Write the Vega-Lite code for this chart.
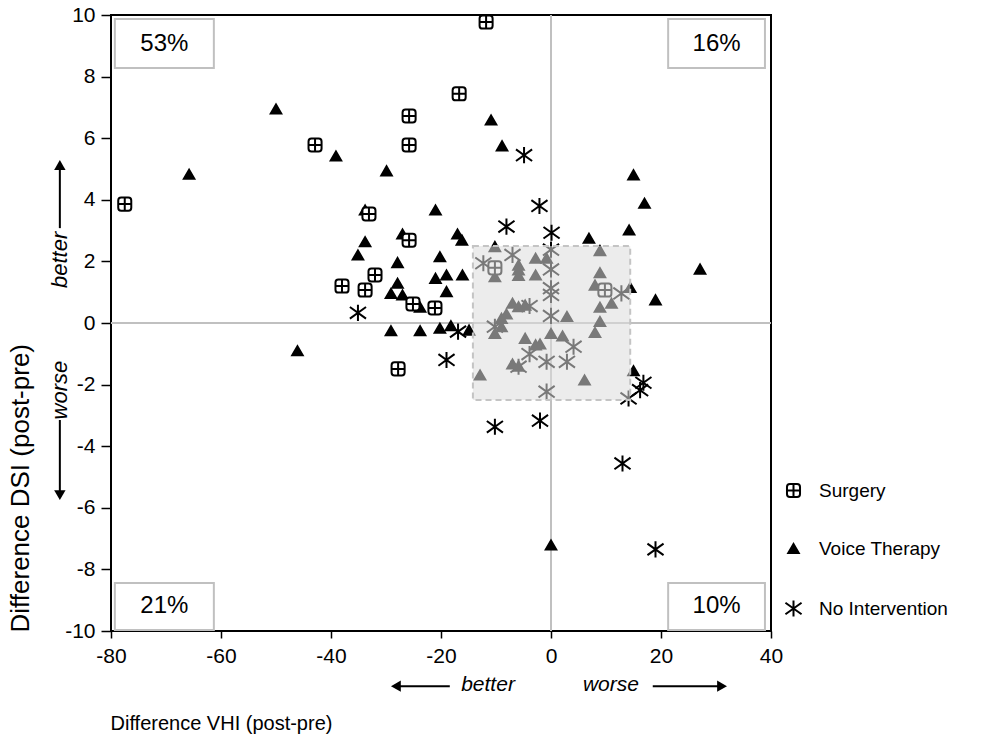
{
  "$schema": "https://vega.github.io/schema/vega-lite/v6.json",
  "width": 660,
  "height": 616,
  "autosize": {"type": "none"},
  "padding": {"left": 111, "top": 15, "right": 214, "bottom": 110},
  "background": "white",
  "config": {
    "font": "Liberation Sans",
    "view": {"stroke": "black", "strokeWidth": 2},
    "axis": {
      "grid": false,
      "domain": false,
      "labelFlush": false,
      "labelOverlap": false,
      "tickColor": "black",
      "tickWidth": 1.5,
      "labelColor": "black",
      "labelFont": "Liberation Sans",
      "titleFont": "Liberation Sans",
      "titleFontWeight": "normal",
      "titleColor": "black",
      "labelExpr": "datum.value < 0 ? '-' + abs(datum.value) : '' + datum.value"
    },
    "legend": {
      "title": null,
      "orient": "none",
      "legendX": 673,
      "legendY": 466,
      "labelFontSize": 19,
      "labelColor": "black",
      "labelFont": "Liberation Sans",
      "symbolStrokeWidth": 2,
      "rowPadding": 37,
      "labelOffset": 16
    }
  },
  "datasets": {
    "patients": [
      {"group": "Voice Therapy", "x": -50.0, "y": 6.95},
      {"group": "Voice Therapy", "x": -65.8, "y": 4.83},
      {"group": "Voice Therapy", "x": -39.1, "y": 5.42},
      {"group": "Voice Therapy", "x": -29.9, "y": 4.94},
      {"group": "Voice Therapy", "x": -10.9, "y": 6.59},
      {"group": "Voice Therapy", "x": -8.9, "y": 5.75},
      {"group": "Voice Therapy", "x": -33.8, "y": 3.67},
      {"group": "Voice Therapy", "x": -21.0, "y": 3.67},
      {"group": "Voice Therapy", "x": -27.0, "y": 2.89},
      {"group": "Voice Therapy", "x": -17.0, "y": 2.89},
      {"group": "Voice Therapy", "x": -16.2, "y": 2.69},
      {"group": "Voice Therapy", "x": -33.8, "y": 2.64},
      {"group": "Voice Therapy", "x": -35.1, "y": 2.21},
      {"group": "Voice Therapy", "x": -27.9, "y": 1.96},
      {"group": "Voice Therapy", "x": -20.2, "y": 2.15},
      {"group": "Voice Therapy", "x": -21.0, "y": 1.45},
      {"group": "Voice Therapy", "x": -19.0, "y": 1.56},
      {"group": "Voice Therapy", "x": -16.1, "y": 1.56},
      {"group": "Voice Therapy", "x": -27.9, "y": 1.29},
      {"group": "Voice Therapy", "x": -29.1, "y": 0.96},
      {"group": "Voice Therapy", "x": -27.0, "y": 0.91},
      {"group": "Voice Therapy", "x": -19.0, "y": 1.02},
      {"group": "Voice Therapy", "x": -23.8, "y": 0.51},
      {"group": "Voice Therapy", "x": -29.1, "y": -0.25},
      {"group": "Voice Therapy", "x": -23.8, "y": -0.25},
      {"group": "Voice Therapy", "x": -20.2, "y": -0.17},
      {"group": "Voice Therapy", "x": -18.2, "y": -0.09},
      {"group": "Voice Therapy", "x": -14.9, "y": -0.23},
      {"group": "Voice Therapy", "x": -46.1, "y": -0.9},
      {"group": "Voice Therapy", "x": 15.0, "y": 4.81},
      {"group": "Voice Therapy", "x": 17.0, "y": 3.89},
      {"group": "Voice Therapy", "x": 14.2, "y": 3.02},
      {"group": "Voice Therapy", "x": 6.9, "y": 2.75},
      {"group": "Voice Therapy", "x": 27.1, "y": 1.75},
      {"group": "Voice Therapy", "x": 19.0, "y": 0.75},
      {"group": "Voice Therapy", "x": 14.4, "y": 1.15},
      {"group": "Voice Therapy", "x": 15.0, "y": -1.55},
      {"group": "Voice Therapy", "x": 0.0, "y": -7.21},
      {"group": "Voice Therapy", "x": -10.2, "y": 2.48},
      {"group": "Voice Therapy", "x": -10.2, "y": 1.5},
      {"group": "Voice Therapy", "x": -5.9, "y": 1.88},
      {"group": "Voice Therapy", "x": -5.9, "y": 1.72},
      {"group": "Voice Therapy", "x": -5.9, "y": 1.54},
      {"group": "Voice Therapy", "x": -2.8, "y": 2.1},
      {"group": "Voice Therapy", "x": -0.8, "y": 2.1},
      {"group": "Voice Therapy", "x": -2.8, "y": 1.56},
      {"group": "Voice Therapy", "x": 8.9, "y": 2.35},
      {"group": "Voice Therapy", "x": 8.9, "y": 1.63},
      {"group": "Voice Therapy", "x": 8.0, "y": 1.23},
      {"group": "Voice Therapy", "x": 11.0, "y": 0.64},
      {"group": "Voice Therapy", "x": 8.9, "y": 0.51},
      {"group": "Voice Therapy", "x": -7.0, "y": 0.64},
      {"group": "Voice Therapy", "x": -5.9, "y": 0.53},
      {"group": "Voice Therapy", "x": -4.7, "y": 0.58},
      {"group": "Voice Therapy", "x": -8.1, "y": 0.29},
      {"group": "Voice Therapy", "x": -9.0, "y": 0.15},
      {"group": "Voice Therapy", "x": -10.2, "y": -0.34},
      {"group": "Voice Therapy", "x": -9.0, "y": -0.12},
      {"group": "Voice Therapy", "x": 2.9, "y": 0.21},
      {"group": "Voice Therapy", "x": 8.9, "y": 0.05},
      {"group": "Voice Therapy", "x": 8.0, "y": -0.31},
      {"group": "Voice Therapy", "x": 0.0, "y": -0.34},
      {"group": "Voice Therapy", "x": 2.1, "y": -0.42},
      {"group": "Voice Therapy", "x": -4.7, "y": -0.5},
      {"group": "Voice Therapy", "x": -2.8, "y": -0.71},
      {"group": "Voice Therapy", "x": -2.0, "y": -0.68},
      {"group": "Voice Therapy", "x": -7.0, "y": -1.33},
      {"group": "Voice Therapy", "x": -5.9, "y": -1.4},
      {"group": "Voice Therapy", "x": -12.9, "y": -1.69},
      {"group": "Voice Therapy", "x": 6.1, "y": -1.85},
      {"group": "No Intervention", "x": -4.9, "y": 5.45},
      {"group": "No Intervention", "x": -2.1, "y": 3.8},
      {"group": "No Intervention", "x": -8.1, "y": 3.13},
      {"group": "No Intervention", "x": 0.1, "y": 2.93},
      {"group": "No Intervention", "x": -35.1, "y": 0.33},
      {"group": "No Intervention", "x": -16.9, "y": -0.28},
      {"group": "No Intervention", "x": -19.0, "y": -1.2},
      {"group": "No Intervention", "x": -10.2, "y": -3.37},
      {"group": "No Intervention", "x": -2.0, "y": -3.17},
      {"group": "No Intervention", "x": 16.8, "y": -1.94},
      {"group": "No Intervention", "x": 16.2, "y": -2.18},
      {"group": "No Intervention", "x": 13.0, "y": -4.56},
      {"group": "No Intervention", "x": 19.0, "y": -7.35},
      {"group": "No Intervention", "x": -7.0, "y": 2.21},
      {"group": "No Intervention", "x": -12.3, "y": 1.94},
      {"group": "No Intervention", "x": 0.0, "y": 2.38},
      {"group": "No Intervention", "x": 0.0, "y": 1.74},
      {"group": "No Intervention", "x": 0.0, "y": 1.13},
      {"group": "No Intervention", "x": 0.0, "y": 0.91},
      {"group": "No Intervention", "x": 0.0, "y": 0.23},
      {"group": "No Intervention", "x": 12.8, "y": 0.96},
      {"group": "No Intervention", "x": -3.9, "y": 0.55},
      {"group": "No Intervention", "x": -10.2, "y": -0.12},
      {"group": "No Intervention", "x": 4.1, "y": -0.77},
      {"group": "No Intervention", "x": -3.9, "y": -1.01},
      {"group": "No Intervention", "x": -0.8, "y": -1.26},
      {"group": "No Intervention", "x": 2.9, "y": -1.26},
      {"group": "No Intervention", "x": -5.9, "y": -1.42},
      {"group": "No Intervention", "x": -0.8, "y": -2.23},
      {"group": "No Intervention", "x": 14.1, "y": -2.45},
      {"group": "Surgery", "x": -77.5, "y": 3.86},
      {"group": "Surgery", "x": -42.9, "y": 5.78},
      {"group": "Surgery", "x": -25.8, "y": 6.72},
      {"group": "Surgery", "x": -25.8, "y": 5.78},
      {"group": "Surgery", "x": -16.7, "y": 7.44},
      {"group": "Surgery", "x": -11.8, "y": 9.77},
      {"group": "Surgery", "x": -33.1, "y": 3.54},
      {"group": "Surgery", "x": -25.8, "y": 2.69},
      {"group": "Surgery", "x": -32.0, "y": 1.56},
      {"group": "Surgery", "x": -38.0, "y": 1.2},
      {"group": "Surgery", "x": -33.8, "y": 1.07},
      {"group": "Surgery", "x": -25.1, "y": 0.62},
      {"group": "Surgery", "x": -21.1, "y": 0.49},
      {"group": "Surgery", "x": -27.8, "y": -1.49},
      {"group": "Surgery", "x": -10.2, "y": 1.79},
      {"group": "Surgery", "x": 9.8, "y": 1.07}
    ],
    "quadrants": [
      {"label": "53%", "x": -79.3, "x2": -61.3, "y": 9.87, "y2": 8.28, "cx": -70.3, "cy": 9.07},
      {"label": "16%", "x": 21.3, "x2": 38.9, "y": 9.87, "y2": 8.28, "cx": 30.1, "cy": 9.07},
      {"label": "21%", "x": -79.3, "x2": -61.3, "y": -8.44, "y2": -9.97, "cx": -70.3, "cy": -9.2},
      {"label": "10%", "x": 21.3, "x2": 38.9, "y": -8.44, "y2": -9.97, "cx": 30.1, "cy": -9.2}
    ]
  },
  "encoding": {
    "x": {
      "field": "x",
      "type": "quantitative",
      "title": "Difference VHI (post-pre)",
      "scale": {"domain": [-80, 40], "nice": false, "zero": false},
      "axis": {
        "values": [-80, -60, -40, -20, 0, 20, 40],
        "tickSize": 7,
        "labelPadding": 7,
        "labelFontSize": 21,
        "titleFontSize": 20,
        "titleX": -1,
        "titleY": 98,
        "titleAlign": "left",
        "titleBaseline": "alphabetic"
      }
    },
    "y": {
      "field": "y",
      "type": "quantitative",
      "title": "Difference DSI (post-pre)",
      "scale": {"domain": [-10, 10], "nice": false, "zero": false},
      "axis": {
        "values": [-10, -8, -6, -4, -2, 0, 2, 4, 6, 8, 10],
        "tickSize": 10,
        "labelPadding": 6,
        "labelFontSize": 21,
        "titleFontSize": 26,
        "titleAngle": 270,
        "titleAlign": "left",
        "titleBaseline": "middle",
        "titleX": -91,
        "titleY": 617
      }
    }
  },
  "layer": [
    {
      "data": {"values": [
        {"x": 0, "y": -10, "x2": 0, "y2": 10},
        {"x": -80, "y": 0, "x2": 40, "y2": 0}
      ]},
      "mark": {"type": "rule", "color": "#c0c0c0", "strokeWidth": 2},
      "encoding": {"x2": {"field": "x2"}, "y2": {"field": "y2"}}
    },
    {
      "data": {"name": "patients"},
      "mark": {"type": "point", "strokeWidth": 2, "opacity": 1},
      "encoding": {
        "shape": {
          "field": "group",
          "type": "nominal",
          "scale": {
            "domain": ["Surgery", "Voice Therapy", "No Intervention"],
            "range": [
              "M-0.55,-1L0.55,-1Q1,-1,1,-0.55L1,0.55Q1,1,0.55,1L-0.55,1Q-1,1,-1,0.55L-1,-0.55Q-1,-1,-0.55,-1ZM-1,0L1,0M0,-1L0,1",
              "triangle-up",
              "M0,-1L0,1M-1,-0.72L1,0.72M-1,0.72L1,-0.72"
            ]
          }
        },
        "fill": {
          "field": "group",
          "type": "nominal",
          "scale": {
            "domain": ["Surgery", "Voice Therapy", "No Intervention"],
            "range": ["white", "black", "transparent"]
          }
        },
        "stroke": {
          "field": "group",
          "type": "nominal",
          "scale": {
            "domain": ["Surgery", "Voice Therapy", "No Intervention"],
            "range": ["black", "black", "black"]
          }
        },
        "size": {
          "field": "group",
          "type": "nominal",
          "scale": {
            "type": "ordinal",
            "domain": ["Surgery", "Voice Therapy", "No Intervention"],
            "range": [170, 110, 260]
          }
        }
      }
    },
    {
      "data": {"values": [{"x": -14.2, "x2": 14.4, "y": -2.5, "y2": 2.5}]},
      "mark": {"type": "rect", "fill": "#dcdcdc", "fillOpacity": 0.55, "stroke": "#c4c4c4", "strokeOpacity": 1, "strokeWidth": 2, "strokeDash": [6, 4]},
      "encoding": {"x2": {"field": "x2"}, "y2": {"field": "y2"}}
    },
    {
      "data": {"name": "quadrants"},
      "mark": {"type": "rect", "fill": "white", "stroke": "#c0c0c0", "strokeWidth": 2},
      "encoding": {"x2": {"field": "x2"}, "y2": {"field": "y2"}}
    },
    {
      "data": {"name": "quadrants"},
      "mark": {"type": "text", "fontSize": 24, "color": "black", "align": "center", "baseline": "middle"},
      "encoding": {
        "x": {"field": "cx", "type": "quantitative"},
        "y": {"field": "cy", "type": "quantitative"},
        "text": {"field": "label"}
      }
    },
    {
      "data": {"values": [
        {"x": -18.4, "y": -11.79, "x2": -28.2, "y2": -11.79},
        {"x": 18.5, "y": -11.79, "x2": 31.1, "y2": -11.79},
        {"x": -89.3, "y": 3.08, "x2": -89.3, "y2": 5.13},
        {"x": -89.3, "y": -3.15, "x2": -89.3, "y2": -5.59}
      ]},
      "mark": {"type": "rule", "color": "black", "strokeWidth": 2},
      "encoding": {"x2": {"field": "x2"}, "y2": {"field": "y2"}}
    },
    {
      "data": {"values": [
        {"x": -28.2, "y": -11.79, "head": "triangle-left"},
        {"x": 31.1, "y": -11.79, "head": "triangle-right"},
        {"x": -89.3, "y": 5.13, "head": "triangle-up"},
        {"x": -89.3, "y": -5.59, "head": "triangle-down"}
      ]},
      "mark": {"type": "point", "filled": true, "color": "black", "opacity": 1, "size": 130},
      "encoding": {"shape": {"field": "head", "type": "nominal", "scale": null}}
    },
    {
      "data": {"values": [
        {"x": -11.45, "y": -11.75, "label": "better"},
        {"x": 10.9, "y": -11.75, "label": "worse"}
      ]},
      "mark": {"type": "text", "fontSize": 21, "fontStyle": "italic", "color": "black", "align": "center", "baseline": "middle"},
      "encoding": {"text": {"field": "label"}}
    },
    {
      "data": {"values": [
        {"x": -89.3, "y": 2.05, "label": "better"},
        {"x": -89.3, "y": -2.18, "label": "worse"}
      ]},
      "mark": {"type": "text", "fontSize": 22, "fontStyle": "italic", "color": "black", "align": "center", "baseline": "middle", "angle": 270},
      "encoding": {"text": {"field": "label"}}
    }
  ]
}
